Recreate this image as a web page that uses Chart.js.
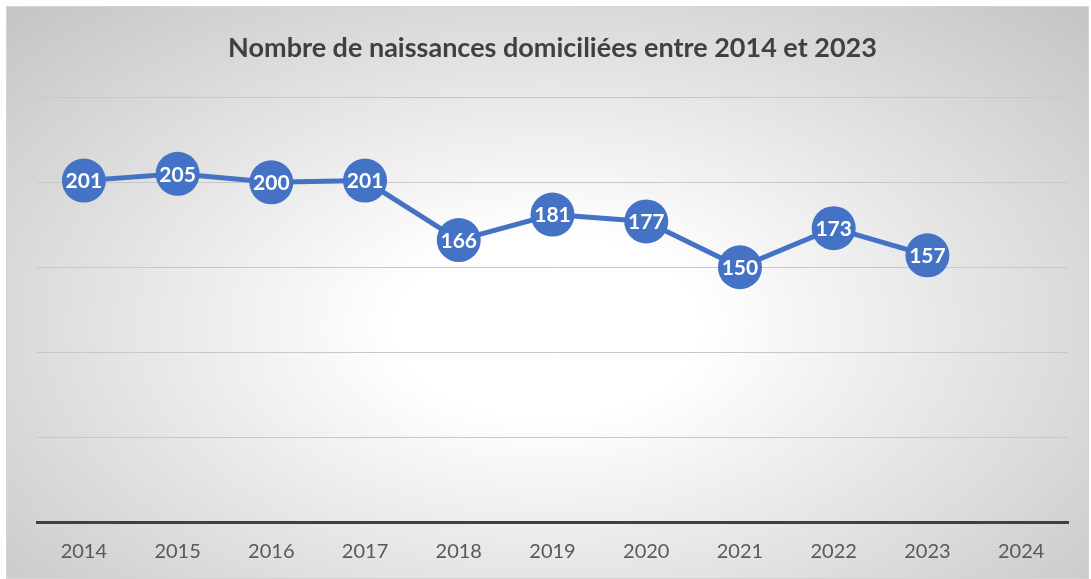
<!DOCTYPE html>
<html lang="fr">
<head>
<meta charset="utf-8">
<title>Naissances domiciliées</title>
<script src="https://cdn.jsdelivr.net/npm/chart.js@4.4.1/dist/chart.umd.min.js"></script>
<style>
  html, body { margin: 0; padding: 0; background: #fff; }
  #card {
    position: absolute; left: 6px; top: 6px;
    width: 1081px; height: 571px;
    border: 1px solid #d4d4d4;
    background: radial-gradient(ellipse farthest-corner at 50% 56%, #ffffff 20%, #c4c4c4 100%);
  }
  #card canvas { display: block; }
</style>
</head>
<body>
<div id="card"><canvas id="naissancesChart" width="1081" height="571"></canvas></div>
<script>
// données
const annees = ['2014', '2015', '2016', '2017', '2018', '2019', '2020', '2021', '2022', '2023', '2024'];
const naissances = [201, 205, 200, 201, 166, 181, 177, 150, 173, 157, null];
const graduations = [0, 50, 100, 150, 200, 250];

const bleu = '#4472c4';

// étiquettes blanches au centre des points
const etiquettesPoints = {
    id: 'etiquettesPoints',
    afterDatasetsDraw(chart) {
        const ctx = chart.ctx;
        const meta = chart.getDatasetMeta(0);
        ctx.save();
        ctx.fillStyle = '#ffffff';
        ctx.font = 'bold 21px Lato';
        ctx.textAlign = 'center';
        ctx.textBaseline = 'middle';
        meta.data.forEach((pt, i) => {
            const v = naissances[i];
            if (v === null) return;
            ctx.fillText(String(v), pt.x, pt.y + 1);
        });
        ctx.restore();
    }
};

new Chart(document.getElementById('naissancesChart'), {
    type: 'line',
    data: {
        labels: annees,
        datasets: [{
            label: 'Naissances',
            data: naissances,
            borderColor: bleu,
            backgroundColor: bleu,
            borderWidth: 5,
            pointRadius: 22,
            pointHoverRadius: 22,
            pointBorderWidth: 0,
            pointBackgroundColor: bleu,
            tension: 0
        }]
    },
    options: {
        responsive: false,
        animation: false,
        layout: { autoPadding: false, padding: { left: 30, right: 20, top: 0, bottom: -4 } },
        plugins: {
            legend: { display: false },
            tooltip: { enabled: false },
            title: {
                display: true,
                text: 'Nombre de naissances domiciliées entre 2014 et 2023',
                color: '#404040',
                font: { family: 'Lato', size: 27, weight: 'bold' },
                padding: { top: 25, bottom: 33 }
            }
        },
        scales: {
            x: {
                offset: true,
                grid: { display: false, drawTicks: false },
                border: { display: true, color: '#404040', width: 3 },
                ticks: {
                    color: '#595959',
                    font: { family: 'Lato', size: 20 },
                    padding: 18,
                    maxRotation: 0
                }
            },
            y: {
                min: 0,
                max: 250,
                afterBuildTicks(axis) {
                    axis.ticks = graduations.map(v => ({ value: v }));
                },
                grid: { color: '#c8c8c8', lineWidth: 1, drawTicks: false },
                border: { display: false },
                ticks: { display: false }
            }
        }
    },
    plugins: [etiquettesPoints]
});
</script>
</body>
</html>
